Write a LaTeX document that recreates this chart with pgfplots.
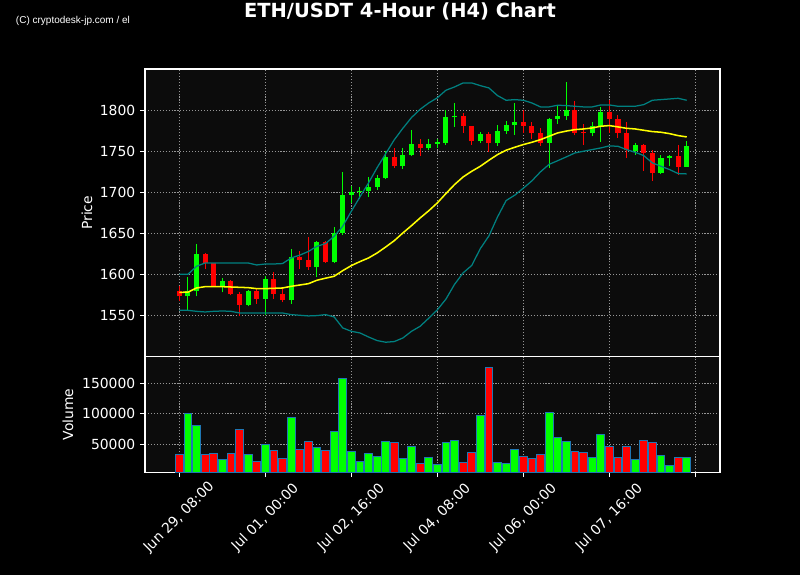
\documentclass[border=0pt]{standalone}
\usepackage{fontspec}
\setmainfont{DejaVu Sans}
\newfontfamily\libsans{Liberation Sans}
\usepackage{pgfplots}
\usepackage{pgfplotstable}
\pgfplotsset{compat=1.18}
\definecolor{axbg}{RGB}{12,12,12}
\definecolor{gridc}{RGB}{150,150,150}
\definecolor{upc}{RGB}{0,255,0}
\definecolor{dnc}{RGB}{255,0,0}
\definecolor{bandc}{RGB}{0,128,128}
\definecolor{edgec}{RGB}{31,119,180}
\definecolor{mac}{RGB}{255,255,0}

\pgfplotstableread{
i o h l c v
1 1573.5 1596.6 1557.3 1579.6 100225
2 1579.6 1637.1 1573.5 1625.4 81100
5 1586.5 1595.8 1578.3 1592.5 24820
8 1563.3 1581.6 1561.3 1580.4 33560
10 1570.6 1597.8 1551.2 1595.0 49950
13 1568.6 1631.5 1564.2 1620.9 94210
16 1608.8 1640.4 1597.0 1639.6 44490
18 1614.9 1657.9 1614.0 1650.6 71260
19 1650.6 1724.4 1648.5 1697.2 158140
20 1697.2 1708.2 1687.1 1700.4 37930
21 1700.4 1706.1 1692.3 1701.5 21540
22 1701.5 1718.7 1694.4 1706.5 35200
23 1706.5 1721.5 1703.3 1717.0 30290
24 1717.0 1749.9 1716.0 1743.0 54870
26 1731.7 1754.0 1728.4 1745.3 27000
27 1745.3 1775.5 1744.2 1759.0 46680
29 1753.6 1764.9 1751.1 1759.0 28650
30 1759.0 1765.4 1754.4 1760.9 17170
31 1760.0 1800.6 1758.0 1792.1 53230
32 1791.3 1808.7 1779.5 1793.3 56510
35 1762.1 1773.9 1760.1 1771.0 97490
37 1759.7 1782.0 1756.4 1775.1 20450
38 1775.1 1786.4 1771.0 1782.4 18810
39 1781.6 1808.7 1769.8 1786.0 41210
43 1760.1 1790.5 1729.7 1789.7 101860
44 1788.9 1804.7 1783.2 1793.3 61430
45 1792.5 1833.9 1788.5 1800.6 54870
48 1772.3 1785.6 1768.2 1781.2 28650
49 1781.2 1803.9 1761.3 1798.2 66350
53 1750.8 1760.1 1745.9 1758.1 25370
56 1723.6 1745.9 1722.8 1741.8 31920
57 1741.8 1745.9 1731.7 1744.7 14440
59 1730.9 1762.1 1730.9 1756.9 28650
}\candup

\pgfplotstableread{
i o h l c v
0 1580.0 1585.6 1567.4 1573.5 33560
3 1625.4 1626.2 1606.7 1614.0 33560
4 1614.0 1614.5 1586.0 1586.5 35200
6 1592.5 1593.8 1574.7 1576.7 35200
7 1576.7 1578.3 1549.2 1563.3 74540
9 1580.4 1582.4 1564.6 1570.6 21540
11 1595.0 1603.1 1570.6 1576.7 40120
12 1576.7 1583.6 1566.2 1568.6 27000
14 1620.9 1628.2 1606.7 1617.5 41760
15 1617.5 1645.7 1606.0 1608.8 54300
17 1639.6 1640.4 1614.0 1614.9 40120
25 1743.0 1754.0 1729.6 1731.7 53230
28 1759.0 1764.9 1744.6 1753.6 18810
33 1793.3 1796.6 1772.3 1780.4 20450
34 1780.4 1781.2 1757.7 1762.1 36840
36 1771.0 1773.9 1749.6 1759.7 175630
40 1786.0 1800.6 1772.3 1780.4 30290
41 1780.4 1785.6 1765.0 1771.8 27000
42 1771.8 1778.7 1756.8 1760.1 33560
46 1800.6 1810.8 1769.4 1772.3 37930
47 1773.1 1783.2 1757.7 1772.3 36840
50 1798.2 1812.8 1772.3 1789.7 46680
51 1789.7 1793.7 1766.2 1772.3 28650
52 1772.3 1785.6 1741.8 1752.0 46680
54 1758.1 1758.5 1726.4 1747.9 56510
55 1747.9 1752.0 1713.5 1723.6 53230
58 1744.7 1757.3 1721.6 1730.9 28650
}\canddn

\pgfplotstableread{
i ma up lo
0 1578.3 1600.2 1556.4
1 1578.5 1600.2 1556.4
2 1583.6 1610.0 1555.2
3 1585.2 1614.0 1554.4
4 1585.2 1614.0 1555.2
5 1585.2 1614.0 1555.6
6 1584.8 1614.0 1555.2
7 1584.4 1614.0 1553.2
8 1584.0 1614.0 1553.2
9 1582.8 1611.6 1553.2
10 1582.8 1612.8 1553.2
11 1583.2 1612.8 1553.2
12 1583.6 1613.3 1553.2
13 1585.6 1620.1 1551.2
14 1587.2 1623.5 1550.4
15 1588.8 1628.0 1549.6
16 1593.0 1634.3 1550.0
17 1595.5 1637.6 1551.2
18 1597.8 1646.5 1548.4
19 1604.7 1658.7 1535.0
20 1610.8 1676.9 1530.9
21 1615.7 1694.4 1528.9
22 1620.1 1711.4 1524.0
23 1626.2 1730.0 1519.6
24 1633.5 1747.0 1517.6
25 1641.2 1764.0 1518.4
26 1650.6 1778.0 1522.8
27 1659.5 1791.0 1530.9
28 1668.8 1801.0 1537.0
29 1677.5 1808.7 1546.8
30 1687.1 1815.0 1557.0
31 1698.5 1824.2 1570.0
32 1709.4 1828.2 1588.0
33 1718.7 1833.1 1602.0
34 1725.6 1833.1 1611.0
35 1731.7 1829.8 1631.5
36 1739.0 1827.0 1647.0
37 1745.9 1817.7 1670.0
38 1751.2 1812.0 1690.0
39 1754.8 1812.8 1696.5
40 1758.1 1812.0 1705.0
41 1760.9 1808.7 1714.0
42 1764.1 1803.9 1725.0
43 1768.2 1803.9 1734.0
44 1772.3 1806.0 1738.5
45 1774.5 1805.5 1743.1
46 1776.3 1804.7 1747.9
47 1777.1 1803.9 1750.0
48 1778.3 1803.9 1752.0
49 1780.4 1806.3 1754.0
50 1781.2 1806.3 1756.5
51 1779.6 1804.7 1756.0
52 1777.9 1804.7 1752.0
53 1777.1 1804.7 1748.7
54 1775.5 1806.7 1744.7
55 1773.9 1812.0 1735.8
56 1773.1 1812.8 1731.7
57 1771.4 1813.6 1727.7
58 1769.0 1814.4 1722.8
59 1767.4 1812.0 1722.4
}\bands

\pgfplotsset{
  dark/.style={
    scale only axis, width=414bp, anchor=south west,
    xmin=-3.99, xmax=62.87,
    axis background/.style={fill=axbg},
    axis line style={white, line width=0.8bp},
    xmajorgrids, ymajorgrids,
    major grid style={gridc, line width=0.8bp, dash pattern=on 0.8bp off 1.32bp},
    tick align=outside, tick pos=left,
    major tick length=3.5bp,
    tick style={white, line width=0.8bp},
    tick label style={text=white, font=\fontsize{10bp}{12bp}\selectfont},
    label style={text=white, font=\fontsize{10bp}{12bp}\selectfont},
    xtick={0,10,20,30,40,50,60},
    scaled ticks=false,
  },
  body/.style={draw=none, mark=none, forget plot,
    error bars/.cd, y dir=plus, y explicit, error mark=none,
    error bar style={solid, line width=3.7bp, draw=#1}},
  wick/.style={draw=none, mark=none, forget plot,
    error bars/.cd, y dir=plus, y explicit, error mark=none,
    error bar style={solid, line width=0.8bp, draw=#1}},
}

\begin{document}
\begin{tikzpicture}[x=0.72bp,y=0.72bp]
\fill[black] (0,0) rectangle (800,575);

\begin{axis}[dark, at={(104.4bp,157.18bp)}, height=207.1bp,
  ymin=1500, ymax=1850,
  ytick={1550,1600,1650,1700,1750,1800},
  yticklabels={1550,1600,1650,1700,1750,1800},
  xticklabels={}, xtick style={draw=none},
  ylabel={Price},
  ylabel style={at={(axis description cs:-0.1009,0.5)}, anchor=center},
]
\addplot[wick=upc] table[x=i, y=l, y error plus expr={\thisrow{h}-\thisrow{l}}] \candup;
\addplot[wick=dnc] table[x=i, y=l, y error plus expr={\thisrow{h}-\thisrow{l}}] \canddn;
\addplot[body=upc] table[x=i, y expr={min(\thisrow{o},\thisrow{c})}, y error plus expr={abs(\thisrow{c}-\thisrow{o})}] \candup;
\addplot[body=dnc] table[x=i, y expr={min(\thisrow{o},\thisrow{c})}, y error plus expr={abs(\thisrow{c}-\thisrow{o})}] \canddn;
\addplot[bandc, line width=0.9bp] table[x=i, y=up] \bands;
\addplot[bandc, line width=0.9bp] table[x=i, y=lo] \bands;
\addplot[mac, line width=1.1bp] table[x=i, y=ma] \bands;
\end{axis}

\begin{axis}[dark, at={(104.4bp,73.94bp)}, height=83.2bp,
  ymin=4000, ymax=193600,
  ytick={50000,100000,150000},
  yticklabels={50000,100000,150000},
  xticklabels={{Jun 29, 08:00},{Jul 01, 00:00},{Jul 02, 16:00},{Jul 04, 08:00},{Jul 06, 00:00},{Jul 07, 16:00},{}},
  xticklabel style={yshift=-29.1bp, rotate=45, anchor=center},
  ylabel={Volume},
  ylabel style={at={(axis description cs:-0.1339,0.5)}, anchor=center},
]
\addplot[ybar, bar width=0.9, bar shift=0pt, fill=upc, draw=edgec, line width=0.7bp] table[x=i, y=v] \candup;
\addplot[ybar, bar width=0.9, bar shift=0pt, fill=dnc, draw=edgec, line width=0.7bp] table[x=i, y=v] \canddn;
\end{axis}

\node[anchor=base, text=white, font=\fontsize{14bp}{17bp}\selectfont\bfseries] at (400,557) {ETH/USDT 4-Hour (H4) Chart};
\node[anchor=base west, inner sep=0pt, text=white, font=\libsans\fontsize{7.2bp}{8.6bp}\selectfont] at (15.7,551) {(C) cryptodesk-jp.com / el};

\pgfresetboundingbox
\path[use as bounding box] (0,0) rectangle (800,575);
\end{tikzpicture}
\end{document}
